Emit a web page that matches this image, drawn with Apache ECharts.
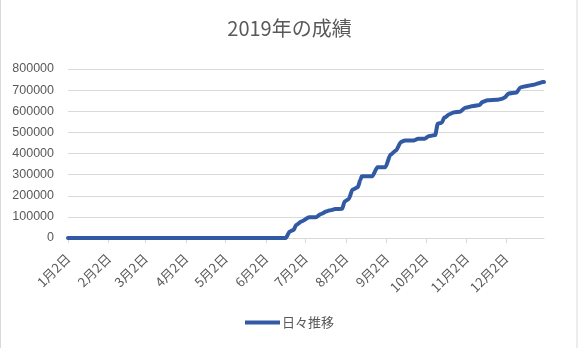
<!DOCTYPE html>
<html>
<head>
<meta charset="utf-8">
<script src="https://cdn.jsdelivr.net/npm/echarts@6/dist/echarts.min.js"></script>
<style>html,body{margin:0;padding:0;background:#fff}#c{width:579px;height:348px}</style>
</head>
<body>
<div id="c"></div>
<script>
// ---- data ----
var titleText = '2019年の成績';
var seriesName = '日々推移';
var dates = ['01-02','06-17','06-20','06-23','06-25','06-29','07-05','07-10','07-14','07-18','07-20','07-25','07-30',
  '08-01','08-04','08-07','08-11','08-13','08-14','08-22','08-26','09-01','09-05','09-09','09-13','09-16','09-23',
  '09-26','10-01','10-04','10-09','10-11','10-14','10-16','10-20','10-23','10-28','11-01','11-07','11-12','11-14',
  '11-18','11-25','11-29','12-01','12-04','12-10','12-13','12-18','12-23','12-27','12-30','12-31'];
var values = [0,0,30000,38000,62000,78000,98000,98000,114000,125000,130000,137000,138000,
  173000,184000,229000,240000,276000,292000,292000,335000,335000,395000,414000,455000,462000,462000,
  470000,470000,482000,487000,541000,546000,570000,586000,594000,598000,617000,625000,630000,644000,
  652000,654000,659000,665000,684000,689000,713000,720000,725000,733000,738000,738000];
var tickMonths = [1,2,3,4,5,6,7,8,9,10,11,12];
var tickDay = 2;
var year = 2019;

var DAY = 86400000;
var t0 = Date.UTC(year,0,2);
function dayIndex(m,d){return Math.round((Date.UTC(year,m-1,d)-t0)/DAY);}
function md(s){var p=s.split('-');return dayIndex(+p[0],+p[1]);}
var seriesData = dates.map(function(d,i){return [md(d), values[i]];});
var tickValues = tickMonths.map(function(m){return dayIndex(m,tickDay);});

var chart = echarts.init(document.getElementById('c'), null, {renderer:'canvas'});
chart.setOption({
  animation:false,
  backgroundColor:'#fff',
  title:{text:titleText,left:'center',top:13,
    textStyle:{fontFamily:'Noto Sans CJK JP',fontSize:20,fontWeight:'normal',color:'#595959'}},
  legend:{bottom:14,left:'center',icon:'rect',itemWidth:35,itemHeight:4,itemGap:4,
    textStyle:{fontFamily:'Noto Sans CJK JP',fontSize:13,color:'#595959',padding:[0,0,0,-3]},data:[seriesName]},
  grid:{left:68,right:35,top:69,bottom:110,containLabel:false},
  xAxis:{type:'value',min:0,max:md('12-31'),
    splitLine:{show:false},
    axisLine:{lineStyle:{color:'#d9d9d9',width:1}},
    axisTick:{show:true,length:5,lineStyle:{color:'#d9d9d9'},customValues:tickValues},
    axisLabel:{customValues:tickValues,rotate:45,margin:18,fontFamily:'Noto Sans CJK JP',fontSize:13,color:'#595959',
      formatter:function(v){var d=new Date(t0+v*DAY);return (d.getUTCMonth()+1)+'月'+d.getUTCDate()+'日';}}},
  yAxis:{type:'value',min:0,max:800000,interval:100000,
    axisLine:{show:false},axisTick:{show:false},
    splitLine:{lineStyle:{color:'#d9d9d9',width:1}},
    axisLabel:{margin:14,fontFamily:'Liberation Sans',fontSize:12.5,color:'#595959',
      formatter:function(v){return String(v);}}},
  series:[{name:seriesName,type:'line',data:seriesData,showSymbol:false,symbol:'none',
    smooth:0.25,smoothMonotone:'x',
    lineStyle:{color:'#3259a4',width:4,cap:'round',join:'round'},itemStyle:{color:'#3259a4'}}],
  graphic:[{type:'rect',shape:{x:0.5,y:-2,width:576.5,height:352},
    style:{fill:'none',stroke:'#d9d9d9',lineWidth:1},silent:true}]
});
</script>
</body>
</html>
